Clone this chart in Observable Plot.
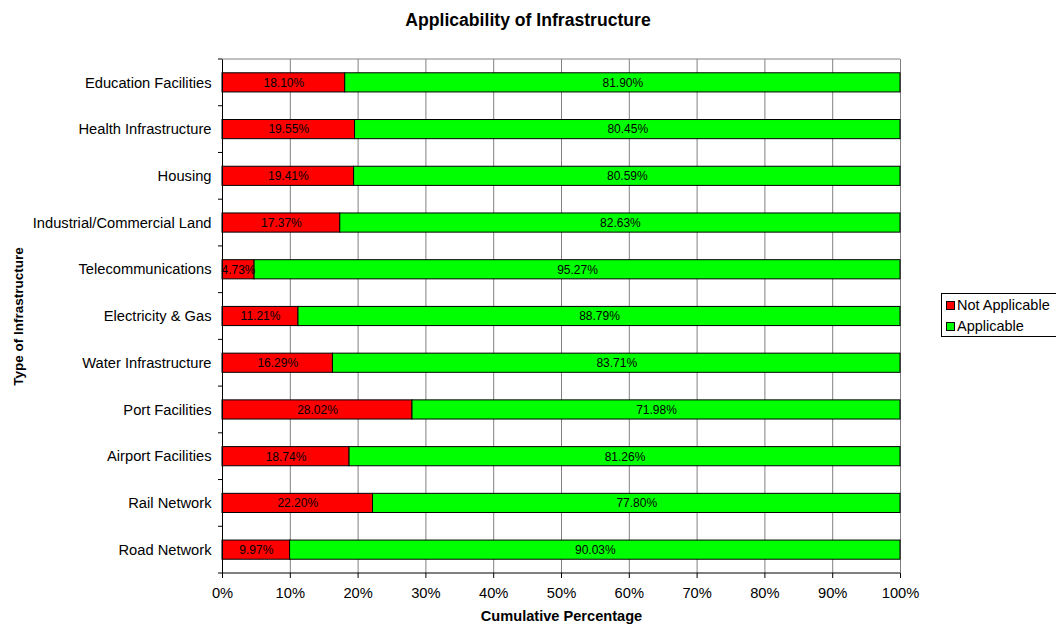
<!DOCTYPE html>
<html><head><meta charset="utf-8">
<script src="https://cdn.jsdelivr.net/npm/d3@7"></script>
<script src="https://cdn.jsdelivr.net/npm/@observablehq/plot@0.6"></script>
<style>
body{margin:0;background:#fff;font-family:"Liberation Sans",Arial,sans-serif;}
#wrap{position:relative;width:1056px;height:628px;overflow:hidden;}
#wrap svg{position:absolute;left:0;top:0;z-index:0;}
#title{position:absolute;z-index:2;left:0;width:1056px;top:9px;text-align:center;font-weight:bold;font-size:17.6px;line-height:22px;}
#legend{position:absolute;z-index:2;left:941px;top:293px;width:130px;height:44px;border:1px solid #000;font-size:14.5px;box-sizing:border-box;padding-left:4px;padding-top:1px;background:#fff;}
#legend div{height:21px;line-height:21px;display:flex;align-items:center;white-space:nowrap;}
#legend span.sw{display:inline-block;width:7px;height:7px;border:1px solid #000;margin-right:2px;}
</style></head>
<body><div id="wrap"><div id="title">Applicability of Infrastructure</div><div id="legend"></div></div>
<script>
const categories = ["Education Facilities","Health Infrastructure","Housing","Industrial/Commercial Land","Telecommunications","Electricity & Gas","Water Infrastructure","Port Facilities","Airport Facilities","Rail Network","Road Network"];
const notApplicable = [18.10,19.55,19.41,17.37,4.73,11.21,16.29,28.02,18.74,22.20,9.97];
const applicable = [81.90,80.45,80.59,82.63,95.27,88.79,83.71,71.98,81.26,77.80,90.03];
const seriesNames = ["Not Applicable","Applicable"];
const seriesColors = ["#ff0000","#00ff00"];
const xTicks = [0,10,20,30,40,50,60,70,80,90,100];

const rows = [];
categories.forEach((c,i)=>{
  rows.push({cat:c, series:seriesNames[0], v:notApplicable[i], x1:0, x2:notApplicable[i]});
  rows.push({cat:c, series:seriesNames[1], v:applicable[i], x1:notApplicable[i], x2:notApplicable[i]+applicable[i]});
});

const chart = Plot.plot({
  width:1056, height:628,
  marginTop:59, marginBottom:55, marginLeft:222, marginRight:156,
  style:{fontFamily:'"Liberation Sans",Arial,sans-serif', fontSize:"14.7px", color:"#000", background:"transparent"},
  x:{domain:[0,100]},
  y:{domain:categories, paddingInner:0.59, paddingOuter:0.295, round:false},
  color:{domain:seriesNames, range:seriesColors},
  marks:[
    Plot.ruleX(xTicks, {stroke:"#808080", strokeWidth:1}),
    Plot.barX(rows, {y:"cat", x1:"x1", x2:"x2", fill:"series", stroke:"#000", strokeWidth:1}),
    Plot.text(rows, {y:"cat", x:d=>(d.x1+d.x2)/2, text:d=>d.v.toFixed(2)+"%", fontSize:12, fill:"#000"}),
    Plot.axisX({ticks:xTicks, tickFormat:d=>d+"%", tickSize:5, tickPadding:9, fontSize:14.7, label:"Cumulative Percentage", labelAnchor:"center", labelOffset:47, labelArrow:"none"}),
    Plot.axisY({tickSize:0, tickPadding:11, fontSize:14.7, label:"Type of Infrastructure", labelAnchor:"center", labelOffset:209, labelArrow:"none"}),
    Plot.ruleX([0], {stroke:"#000"})
  ]
});
document.getElementById("wrap").insertBefore(chart, document.getElementById("title"));
const svg = d3.select(chart);
svg.selectAll('g[aria-label="x-axis label"] text').style("font-weight","bold").style("font-size","14.6px");
svg.selectAll('g[aria-label="y-axis label"] text').style("font-weight","bold").style("font-size","13.5px");
// band-boundary ticks, top border and bottom axis line, from the scales
const ys = chart.scale("y"), xs = chart.scale("x");
const step = ys.step, x0 = xs.apply(0), x1 = xs.apply(100);
const band0 = ys.apply(categories[0]);
const off = (step - ys.bandwidth)/2;
const yTop = band0 - off, yBottom = band0 - off + categories.length*step;
const g = svg.append("g");
g.append("line").attr("x1",x0).attr("x2",x1).attr("y1",yTop).attr("y2",yTop).attr("stroke","#808080");
for(let i=0;i<=categories.length;i++){
  const yy = yTop + i*step;
  g.append("line").attr("x1",x0-4).attr("x2",x0).attr("y1",yy).attr("y2",yy).attr("stroke","#000");
}
g.append("line").attr("x1",x0).attr("x2",x1).attr("y1",yBottom).attr("y2",yBottom).attr("stroke","#000");
// legend
const leg = document.getElementById("legend");
seriesNames.forEach((s,i)=>{
  const d = document.createElement("div");
  d.innerHTML = `<span class="sw" style="background:${seriesColors[i]}"></span>${s}`;
  leg.appendChild(d);
});
</script></body></html>
